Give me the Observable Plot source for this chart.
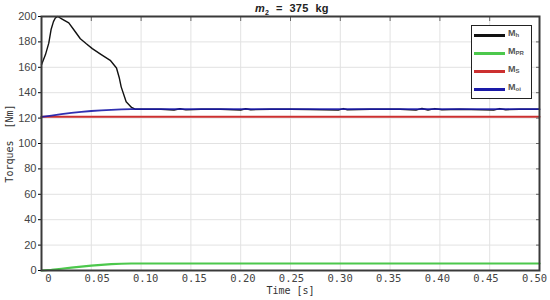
<!DOCTYPE html>
<html>
<head>
<meta charset="utf-8">
<script src="https://cdn.jsdelivr.net/npm/d3@7"></script>
<script src="https://cdn.jsdelivr.net/npm/@observablehq/plot@0.6"></script>
<style>
  body { margin: 0; background: #fff; }
  #wrap { position: relative; width: 550px; height: 300px; }
  #title { position: absolute; left: 255px; top: 2px; white-space: nowrap;
    font: bold 11px "Liberation Sans", Arial, sans-serif; color: #222; letter-spacing: 0.3px; }
  #legend { position: absolute; left: 471px; top: 25px; width: 59px; height: 72px;
    border: 1.5px solid #222; background: #fff; }
  .row { position: absolute; left: 2px; height: 10px; }
  .row .ln { position: absolute; left: 0; top: 4px; width: 31px; height: 2.5px; }
  .row .tx { position: absolute; left: 34px; top: -2px; font: bold 9px "Liberation Sans", Arial, sans-serif; color: #555; white-space: nowrap; }
  .row .tx sub { font-size: 6px; vertical-align: -1px; }
  g[aria-label="x-axis label"] text, g[aria-label="y-axis label"] text { font-family: "DejaVu Sans Mono", monospace; font-size: 10px; fill: #333; }
</style>
</head>
<body>
<div id="wrap">
  <div id="title"><i>m</i><sub style="font-size:7px">2</sub>&nbsp; = &nbsp;375&nbsp; kg</div>
  <div id="chart"></div>
  <div id="legend"></div>
</div>
<script>
// Series names and colours
const seriesNames = ["h", "PR", "S", "oi"];
const seriesColors = ["#111111", "#4cc84c", "#cc3030", "#1a1aa8"];

// Tick values
const xTicks = [0, 0.05, 0.10, 0.15, 0.20, 0.25, 0.30, 0.35, 0.40, 0.45, 0.50];
const yTicks = [0, 20, 40, 60, 80, 100, 120, 140, 160, 180, 200];

// M_h (black)
const tMh = [0, 0.004, 0.0073, 0.0097, 0.012, 0.014, 0.0164, 0.0207, 0.0274, 0.033, 0.039, 0.045, 0.051, 0.060, 0.069, 0.0753, 0.078, 0.080, 0.085, 0.0904, 0.094, 0.100, 0.120, 0.133, 0.139, 0.145, 0.160, 0.180, 0.200, 0.205, 0.210, 0.230, 0.250, 0.270, 0.298, 0.303, 0.307, 0.330, 0.360, 0.376, 0.382, 0.388, 0.395, 0.402, 0.420, 0.454, 0.460, 0.466, 0.480, 0.500];
const vMh = [162, 170, 179, 190, 196, 199, 200, 198, 195, 189, 182.5, 178.5, 174.7, 170, 165.5, 159.5, 152, 144.6, 132.8, 128.4, 127, 127, 127, 126.4, 127.4, 126.5, 127, 127, 126.4, 127.4, 126.6, 127, 127, 126.8, 126.3, 127.5, 126.6, 127, 127, 126.3, 127.6, 126.4, 127.5, 126.6, 127, 126.3, 127.5, 126.6, 127, 127];

// M_PR (green)
const tMpr = [0, 0.01, 0.02, 0.03, 0.04, 0.05, 0.06, 0.07, 0.08, 0.09, 0.10, 0.50];
const vMpr = [0, 0.6, 1.4, 2.3, 3.1, 3.9, 4.5, 5.0, 5.3, 5.5, 5.5, 5.5];

// M_S (red)
const tMs = [0, 0.50];
const vMs = [121, 121];

// M_oi (blue)
const tMoi = [0, 0.01, 0.02, 0.03, 0.04, 0.05, 0.06, 0.07, 0.08, 0.09, 0.10, 0.50];
const vMoi = [121, 122, 123.1, 124.1, 124.9, 125.6, 126.1, 126.5, 126.8, 127, 127, 127];

const toRows = (ts, vs) => ts.map((t, i) => ({t, v: vs[i]}));
const mh = toRows(tMh, vMh), mpr = toRows(tMpr, vMpr), ms = toRows(tMs, vMs), moi = toRows(tMoi, vMoi);

// The reference's tick labels sit on a slightly narrower span than its grid lines
const labelPos = d => 0.007 + d * 0.976;

const chart = Plot.plot({
  width: 550,
  height: 300,
  marginLeft: 41,
  marginRight: 11,
  marginTop: 16,
  marginBottom: 30,
  style: {fontFamily: "Liberation Sans, Arial, sans-serif", background: "#fff", overflow: "visible"},
  x: {domain: [0, 0.5]},
  y: {domain: [0, 200]},
  marks: [
    Plot.gridX(xTicks, {stroke: "#e2e2e2", strokeOpacity: 1}),
    Plot.gridY(yTicks, {stroke: "#e2e2e2", strokeOpacity: 1}),
    Plot.line(mpr, {x: "t", y: "v", stroke: seriesColors[1], strokeWidth: 2.2}),
    Plot.line(ms, {x: "t", y: "v", stroke: seriesColors[2], strokeWidth: 2}),
    Plot.line(mh, {x: "t", y: "v", stroke: seriesColors[0], strokeWidth: 1.4}),
    Plot.line(moi, {x: "t", y: "v", stroke: seriesColors[3], strokeWidth: 1.8, strokeOpacity: 0.9}),
    Plot.axisX(xTicks, {x: labelPos, tickSize: 0, tickPadding: 4, fontFamily: "DejaVu Sans Mono, monospace", fontSize: 10.5, fill: "#444",
      text: d => d === 0 ? "0" : d.toFixed(2),
      label: "Time [s]", labelAnchor: "center", labelOffset: 23, labelArrow: "none"}),
    Plot.axisY(yTicks, {tickSize: 3, tickPadding: 2, fontSize: 11, fill: "#444", label: "Torques  [Nm]", labelAnchor: "center", labelOffset: 36, labelArrow: "none"}),
    Plot.axisY(yTicks, {anchor: "right", tickSize: 4, dx: -4, tickFormat: () => "", label: null, stroke: "#666"}),
    Plot.axisX(xTicks, {anchor: "top", tickSize: 4, dy: 4, tickFormat: () => "", label: null, stroke: "#666"}),
    Plot.frame({stroke: "#3a3a3a", strokeWidth: 2})
  ]
});
document.getElementById("chart").appendChild(chart);

// Legend (HTML overlay)
const legend = document.getElementById("legend");
const rowsY = [4, 22, 40, 58];
seriesNames.forEach((n, i) => {
  const r = document.createElement("div");
  r.className = "row";
  r.style.top = rowsY[i] + "px";
  r.innerHTML = `<div class="ln" style="background:${seriesColors[i]}"></div><div class="tx">M<sub>${n}</sub></div>`;
  legend.appendChild(r);
});
</script>
</body>
</html>
